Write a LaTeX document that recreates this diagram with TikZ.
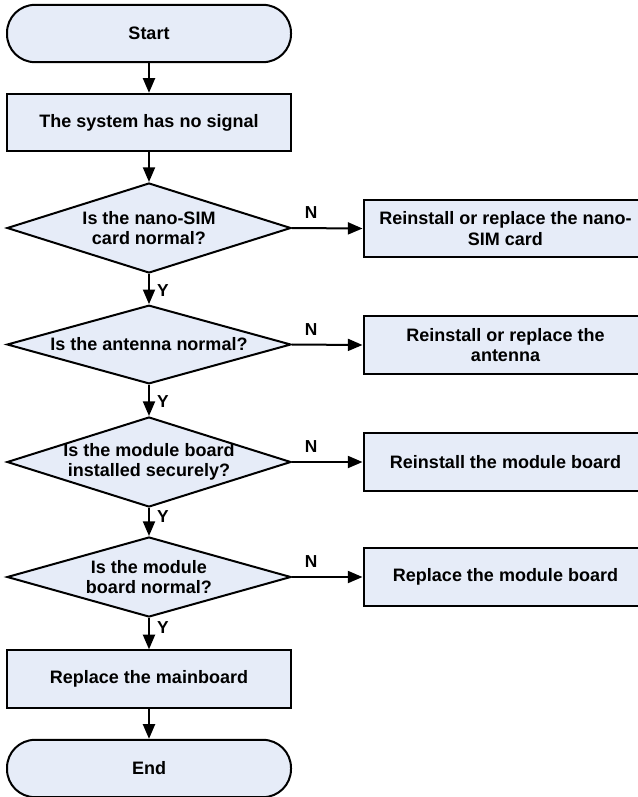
\documentclass[tikz,border=0pt]{standalone}
\usepackage{fontspec}
\setmainfont{Liberation Sans}
\usetikzlibrary{arrows.meta, shapes.geometric}
\definecolor{boxfill}{RGB}{230,236,248}

\begin{document}
\begin{tikzpicture}[x=0.75pt, y=-0.75pt, >={Triangle[length=11pt, width=9pt]},
    every node/.style={font=\fontsize{13.5}{15.5}\selectfont\bfseries, align=center},
    proc/.style={draw, line width=1.5pt, fill=boxfill, minimum width=213pt, minimum height=43pt, inner sep=0pt},
    term/.style={proc, rounded corners=21pt},
    decision/.style={diamond, draw, line width=1.5pt, fill=boxfill, minimum width=213pt, minimum height=#1, inner sep=0pt},
    flow/.style={->, line width=1.5pt},
    lbl/.style={font=\fontsize{13}{15}\selectfont\bfseries}]
    \useasboundingbox (0,0) rectangle (638,797);
    % 左列
    \node[term] (start) at (149,33.5) {Start};
    \node[proc] (nosig) at (149,122.5) {The system has no signal};
    \node[decision=67.5pt] (q1) at (149,228) {};
    \node (q1t) at (q1) {Is the nano-SIM\\card normal?};
    \node[decision=59pt] (q2) at (149,344.5) {};
    \node (q2t) at (q2) {Is the antenna normal?};
    \node[decision=67.5pt] (q3) at (149,462) {};
    \node (q3t) at (q3) {Is the module board\\installed securely?};
    \node[decision=60pt] (q4) at (149,577) {};
    \node (q4t) at (q4) {Is the module\\board normal?};
    \node[proc] (mainb) at (149,679) {Replace the mainboard};
    \node[term] (stop) at (149,768.5) {End};
    % 右列
    \node[proc] (fix1) at (505.5,228.5) {Reinstall or replace the nano-\\SIM card};
    \node[proc] (fix2) at (505.5,345) {Reinstall or replace the\\antenna};
    \node[proc] (fix3) at (505.5,462) {Reinstall the module board};
    \node[proc] (fix4) at (505.5,577) {Replace the module board};
    % 竖直箭头
    \draw[flow] (start.south) -- (nosig.north);
    \draw[flow] (nosig.south) -- (q1.north);
    \draw[flow] (q1.south) -- (q2.north) node[lbl, pos=.55, right=2pt] {Y};
    \draw[flow] (q2.south) -- (q3.north) node[lbl, pos=.55, right=2pt] {Y};
    \draw[flow] (q3.south) -- (q4.north) node[lbl, pos=.3, right=2pt] {Y};
    \draw[flow] (q4.south) -- (mainb.north) node[lbl, pos=.3, right=2pt] {Y};
    \draw[flow] (mainb.south) -- (stop.north);
    % 水平箭头
    \draw[flow] (q1.east) -- (fix1.west) node[lbl, pos=.27, above=3pt] {N};
    \draw[flow] (q2.east) -- (fix2.west) node[lbl, pos=.27, above=3pt] {N};
    \draw[flow] (q3.east) -- (fix3.west) node[lbl, pos=.27, above=3pt] {N};
    \draw[flow] (q4.east) -- (fix4.west) node[lbl, pos=.27, above=3pt] {N};
\end{tikzpicture}
\end{document}
